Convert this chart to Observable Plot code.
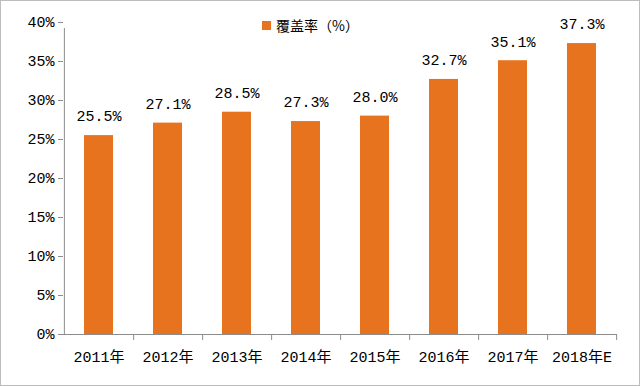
<!DOCTYPE html>
<html>
<head>
<meta charset="utf-8">
<script src="https://cdn.jsdelivr.net/npm/d3@7"></script>
<script src="https://cdn.jsdelivr.net/npm/@observablehq/plot@0.6"></script>
<style>
  html, body { margin: 0; padding: 0; background: #fff; }
  #wrap { position: relative; width: 640px; height: 386px; overflow: hidden; }
  #border { position: absolute; left: 0; top: 0; width: 640px; height: 386px; box-sizing: border-box; border: 1px solid #bdbdbd; pointer-events: none; }
  #legend { position: absolute; left: 262px; top: 15px; font-family: "Noto Sans CJK SC", sans-serif; font-size: 14px; color: #000; display: flex; align-items: center; }
  #legend .sw { width: 9px; height: 9px; background: #E8731E; margin-right: 5px; }
</style>
</head>
<body>
<div id="wrap">
  <div id="chart"></div>
  <div id="legend"><span class="sw"></span><span>覆盖率（%）</span></div>
  <div id="border"></div>
</div>
<script>
const years = ["2011年", "2012年", "2013年", "2014年", "2015年", "2016年", "2017年", "2018年E"];
const coverage = [25.5, 27.1, 28.5, 27.3, 28.0, 32.7, 35.1, 37.3];
const yTicks = [0, 5, 10, 15, 20, 25, 30, 35, 40];

const data = years.map((y, i) => ({year: y, value: coverage[i]}));

const W = 640, H = 386, mL = 63, mR = 23, mT = 22, mB = 52;
const step = (W - mL - mR) / years.length;
const font = `"Liberation Mono", "Noto Sans CJK SC", monospace`;
const barColor = "#E8731E";
const axisColor = "#8c8c8c";

const chart = Plot.plot({
  width: W,
  height: H,
  marginLeft: mL,
  marginRight: mR,
  marginTop: mT,
  marginBottom: mB,
  style: {fontFamily: font, fontSize: "15px", color: "#000", background: "transparent"},
  x: {domain: years, paddingInner: 0.58, paddingOuter: 0.29, label: null},
  y: {domain: [0, 40], label: null},
  marks: [
    Plot.barY(data, {x: "year", y: "value", fill: barColor}),
    Plot.text(data, {x: "year", y: "value", text: d => d.value.toFixed(1) + "%", dy: -19, fill: "#000", fontSize: 15}),
    // y axis
    Plot.axisY(yTicks, {tickSize: 5, tickPadding: 4, stroke: axisColor, tickFormat: d => d + "%", fill: "#000", fontSize: 15, label: null}),
    Plot.ruleX([years[0]], {dx: -step / 2, y1: 0, y2: 40, stroke: axisColor, insetBottom: -6}),
    // x axis line
    Plot.ruleY([0], {stroke: axisColor}),
    // category boundary ticks
    Plot.axisX(years, {tickSize: 6, dx: step / 2, stroke: axisColor, tickFormat: () => "", label: null}),
    // category labels
    Plot.axisX(years, {tickSize: 0, tickPadding: 17, fill: "#000", fontSize: 15, label: null})
  ]
});
document.getElementById("chart").appendChild(chart);
</script>
</body>
</html>
